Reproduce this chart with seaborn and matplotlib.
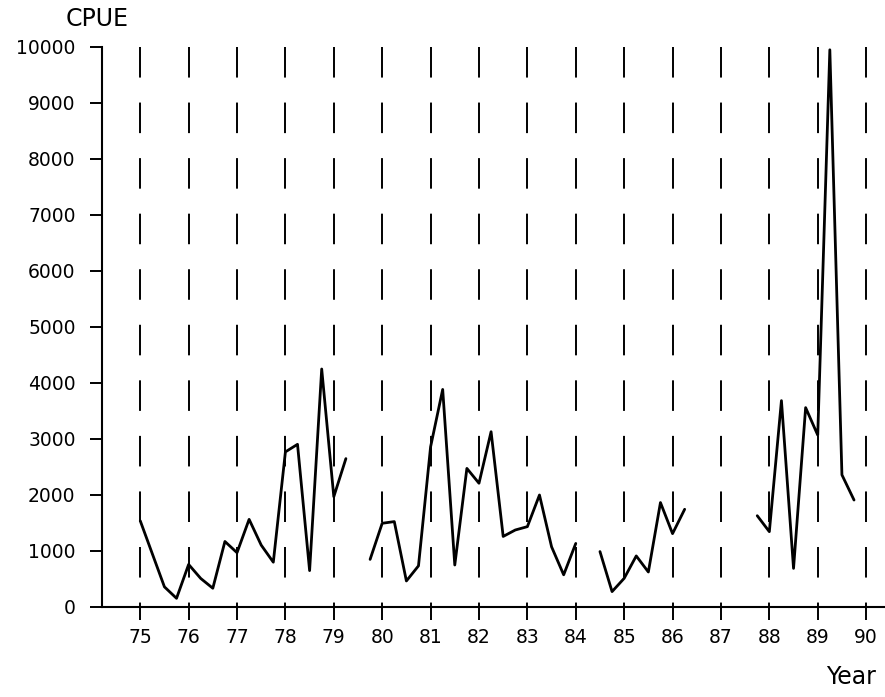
import numpy as np
import pandas as pd
import matplotlib
matplotlib.use("Agg")
import matplotlib.pyplot as plt
import seaborn as sns

# ---- data (quarterly CPUE, NaN = no data) ----
years = [75, 76, 77, 78, 79, 80, 81, 82, 83, 84, 85, 86, 87, 88, 89, 90]
year_labels = ["75", "76", "77", "78", "79", "80", "81", "82", "83",
               "84", "85", "86", "87", "88", "89", "90"]
yticks = [0, 1000, 2000, 3000, 4000, 5000, 6000, 7000, 8000, 9000, 10000]

time = [75.0, 75.25, 75.5, 75.75,
        76.0, 76.25, 76.5, 76.75,
        77.0, 77.25, 77.5, 77.75,
        78.0, 78.25, 78.5, 78.75,
        79.0, 79.25, 79.5, 79.75,
        80.0, 80.25, 80.5, 80.75,
        81.0, 81.25, 81.5, 81.75,
        82.0, 82.25, 82.5, 82.75,
        83.0, 83.25, 83.5, 83.75,
        84.0, 84.25, 84.5, 84.75,
        85.0, 85.25, 85.5, 85.75,
        86.0, 86.25, 86.5, 86.75,
        87.0, 87.25, 87.5, 87.75,
        88.0, 88.25, 88.5, 88.75,
        89.0, 89.25, 89.5, 89.75]
cpue = [1540, 950, 360, 155,
        760, 510, 335, 1170,
        970, 1565, 1105, 800,
        2770, 2905, 650, 4250,
        1970, 2650, np.nan, 850,
        1495, 1525, 465, 735,
        2860, 3885, 750, 2475,
        2210, 3130, 1260, 1375,
        1435, 2000, 1075, 575,
        1135, np.nan, 990, 275,
        512, 912, 625, 1865,
        1310, 1745, np.nan, np.nan,
        np.nan, np.nan, np.nan, 1630,
        1345, 3685, 690, 3560,
        3070, 9950, 2360, 1910]

df = pd.DataFrame({"time": time, "cpue": cpue})
df["segment"] = df["cpue"].isna().cumsum()
df = df.dropna()

sns.set_theme(style="white")
plt.rcParams["font.family"] = ["DejaVu Sans"]
plt.rcParams["lines.scale_dashes"] = False
plt.rcParams["text.color"] = "black"

fig = plt.figure(figsize=(8.85, 6.97), dpi=100)
ax = fig.add_axes([102 / 885, 1 - 607 / 697, 1 - 102 / 885, 560 / 697])

# dashed vertical year lines
for yr in years:
    ax.plot([yr, yr], [10000, -240], color="black", lw=1.4,
            dashes=(22, 18), clip_on=False, zorder=1)

for seg, sub in df.groupby("segment"):
    sns.lineplot(data=sub, x="time", y="cpue", ax=ax, color="black",
                 lw=2.0, estimator=None, sort=False, zorder=3)

ax.set_xlim(74.21, 90.39)
ax.set_ylim(0, 10000)
ax.set_xticks(years)
ax.set_xticklabels(year_labels)
ax.set_yticks(yticks)
ax.set_yticklabels([str(v) for v in yticks])
ax.tick_params(axis="x", length=0, pad=15, labelsize=13.5, colors="black")
ax.tick_params(axis="y", direction="out", length=9, width=1.4, pad=10,
               labelsize=13.5, colors="black", left=True)
ax.set_xlabel("")
ax.set_ylabel("")
for s in ["top", "right"]:
    ax.spines[s].set_visible(False)
for s in ["left", "bottom"]:
    ax.spines[s].set_color("black")
    ax.spines[s].set_linewidth(1.5)
ax.grid(False)

fig.text(97 / 885, 1 - 19 / 697, "CPUE", ha="center", va="center",
         fontsize=17, color="black")
fig.text(851 / 885, 1 - 677 / 697, "Year", ha="center", va="center",
         fontsize=17, color="black")

fig.savefig("out.png", dpi=100, facecolor="white")
